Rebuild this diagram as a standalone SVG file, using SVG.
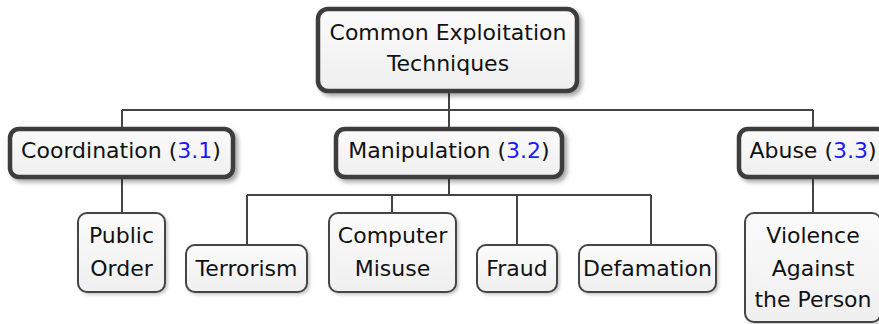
<svg xmlns="http://www.w3.org/2000/svg" width="879" height="324" viewBox="0 0 879 324">
<style>
.main{fill:url(#g);stroke:#3d3d3d;stroke-width:4.5;filter:url(#sh)}
.leaf{fill:url(#g);stroke:#444;stroke-width:2;filter:url(#sh2)}
.t{font-family:"DejaVu Sans",sans-serif;font-size:22px;fill:#111;text-anchor:middle}
.ref{fill:#1a1aff}
.c{fill:none;stroke:#444;stroke-width:2}
</style>
<defs>
<linearGradient id="g" x1="0" y1="0" x2="0" y2="1">
<stop offset="0" stop-color="#fbfbfb"/>
<stop offset="1" stop-color="#efefef"/>
</linearGradient>
<filter id="sh" x="-10%" y="-20%" width="130%" height="150%">
<feDropShadow dx="3" dy="3" stdDeviation="2" flood-color="#000" flood-opacity="0.35"/>
</filter>
<filter id="sh2" x="-10%" y="-20%" width="130%" height="150%">
<feDropShadow dx="2" dy="2" stdDeviation="1.5" flood-color="#000" flood-opacity="0.2"/>
</filter>
</defs>
<rect width="879" height="324" fill="#fff"/>
<g id="connectors">
<path class="c" d="M449 93V110M122 110H813M122 110V129M449 110V129M813 110V129"/>
<path class="c" d="M122 179V213"/>
<path class="c" d="M449 179V195M247 195H651M247 195V245M392 195V213M517 195V245M651 195V245"/>
<path class="c" d="M813 179V213"/>
</g>
<g id="root">
<rect class="main" x="318" y="9" width="259" height="82" rx="10"/>
<text class="t" x="448" y="40">Common Exploitation</text>
<text class="t" x="448" y="71">Techniques</text>
</g>
<g id="coordination">
<rect class="main" x="10" y="129" width="223" height="48" rx="9"/>
<text class="t" x="121" y="158">Coordination (<tspan class="ref">3.1</tspan>)</text>
</g>
<g id="manipulation">
<rect class="main" x="336" y="129" width="226" height="48" rx="9"/>
<text class="t" x="449" y="158">Manipulation (<tspan class="ref">3.2</tspan>)</text>
</g>
<g id="abuse">
<rect class="main" x="739" y="129" width="148" height="48" rx="9"/>
<text class="t" x="813" y="158">Abuse (<tspan class="ref">3.3</tspan>)</text>
</g>
<g id="public-order">
<rect class="leaf" x="78" y="213" width="87" height="79" rx="9"/>
<text class="t" x="121.5" y="243">Public</text>
<text class="t" x="121.5" y="276">Order</text>
</g>
<g id="terrorism">
<rect class="leaf" x="186" y="245" width="121" height="47" rx="9"/>
<text class="t" x="246.5" y="276">Terrorism</text>
</g>
<g id="computer-misuse">
<rect class="leaf" x="329" y="213" width="127" height="79" rx="9"/>
<text class="t" x="392.5" y="243">Computer</text>
<text class="t" x="392.5" y="276">Misuse</text>
</g>
<g id="fraud">
<rect class="leaf" x="477" y="245" width="80" height="47" rx="9"/>
<text class="t" x="517" y="276">Fraud</text>
</g>
<g id="defamation">
<rect class="leaf" x="579" y="245" width="137" height="47" rx="9"/>
<text class="t" x="647.5" y="276">Defamation</text>
</g>
<g id="violence">
<rect class="leaf" x="745" y="213" width="136" height="109" rx="9"/>
<text class="t" x="813" y="243">Violence</text>
<text class="t" x="813" y="276">Against</text>
<text class="t" x="813" y="307">the Person</text>
</g>
</svg>
